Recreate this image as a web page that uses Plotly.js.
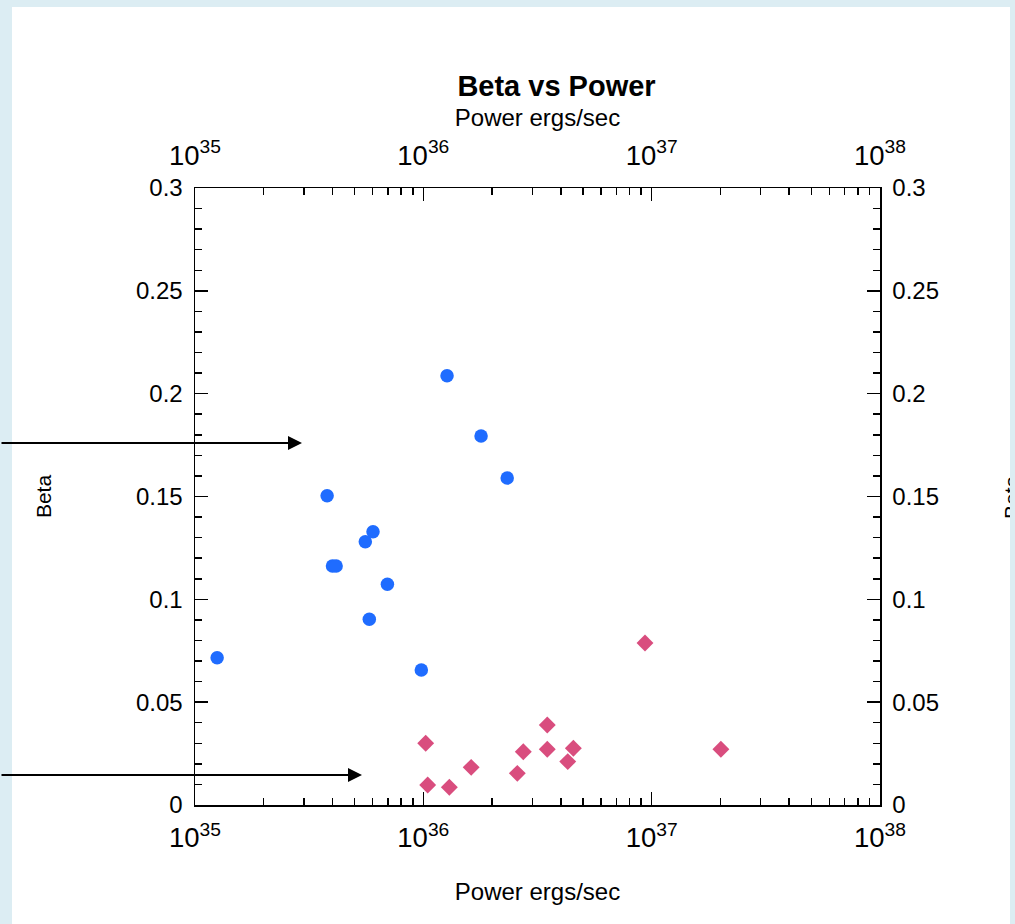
<!DOCTYPE html>
<html>
<head>
<meta charset="utf-8">
<script src="https://cdn.plot.ly/plotly-3.0.1.min.js"></script>
<style>
  html, body { margin: 0; padding: 0; background: #dcedf3; width: 1015px; height: 924px; overflow: hidden; }
  #panel { position: absolute; left: 12px; top: 7px; width: 998px; height: 917px; background: #ffffff; }
  #chart { position: absolute; left: 0; top: 0; width: 1010px; height: 924px; overflow: hidden; }
</style>
</head>
<body>
<div id="panel"></div>
<div id="chart"></div>
<script>
// Series 1 (blue circles): power (ergs/sec) and beta
const bluePower = [1.25e35, 3.79e35, 4.0e35, 4.15e35, 5.57e35, 5.8e35, 6.02e35, 6.96e35, 9.8e35, 1.27e36, 1.79e36, 2.33e36];
const blueBeta  = [0.0716, 0.1504, 0.1162, 0.1162, 0.128, 0.0903, 0.1329, 0.1073, 0.0656, 0.2087, 0.1794, 0.159];

// Series 2 (pink diamonds): power (ergs/sec) and beta
const pinkPower = [1.024e36, 1.045e36, 1.30e36, 1.62e36, 2.58e36, 2.74e36, 3.49e36, 3.49e36, 4.29e36, 4.54e36, 9.35e36, 2.01e37];
const pinkBeta  = [0.030, 0.0097, 0.0086, 0.0183, 0.0154, 0.0259, 0.0389, 0.0271, 0.0211, 0.0276, 0.0788, 0.0271];

// Text
const chartTitle = 'Beta vs Power';
const xTitle = 'Power ergs/sec';
const yTitle = 'Beta';

const FONT = 'Liberation Sans, Arial, sans-serif';
const xTickFont = {family: FONT, size: 22, color: '#000'};
const yTickFont = {family: FONT, size: 24, color: '#000'};

const baseX = {
  type: 'log', range: [35, 38], dtick: 1, exponentformat: 'power', showexponent: 'all',
  showline: true, linecolor: '#000', linewidth: 1.5, mirror: false,
  ticks: 'inside', ticklen: 13, tickwidth: 1.5, tickcolor: '#000',
  minor: {ticks: 'inside', ticklen: 7, tickwidth: 1.5, tickcolor: '#000', dtick: 'D1', showgrid: false},
  showgrid: false, zeroline: false, tickfont: xTickFont
};
const baseY = {
  range: [0, 0.3], dtick: 0.05, tick0: 0,
  showline: true, linecolor: '#000', linewidth: 1.5,
  ticks: 'inside', ticklen: 13, tickwidth: 1.5, tickcolor: '#000',
  minor: {ticks: 'inside', ticklen: 7, tickwidth: 1.5, tickcolor: '#000', dtick: 0.01, showgrid: false},
  showgrid: false, zeroline: false, tickfont: yTickFont, ticklabelstandoff: 6
};

const traces = [
  {x: bluePower, y: blueBeta, type: 'scatter', mode: 'markers', name: 'Beta',
   marker: {symbol: 'circle', size: 13.5, color: '#1f6cff'}},
  {x: pinkPower, y: pinkBeta, type: 'scatter', mode: 'markers', name: 'Beta 2',
   marker: {symbol: 'diamond', size: 13, color: '#d94d7e'}},
  // empty trace that binds the mirrored top and right axes
  {x: [], y: [], type: 'scatter', mode: 'markers', xaxis: 'x2', yaxis: 'y2', showlegend: false, hoverinfo: 'skip'}
];

const layout = {
  width: 1010, height: 924,
  paper_bgcolor: 'rgba(0,0,0,0)', plot_bgcolor: '#ffffff',
  margin: {l: 195, r: 130, t: 188, b: 119},
  showlegend: false,
  font: {family: FONT, color: '#000'},
  title: {text: '<b>' + chartTitle + '</b>', font: {family: FONT, size: 29, color: '#000'},
          xref: 'container', x: 0.551, xanchor: 'center', yref: 'container', y: 1 - 86/924, yanchor: 'middle'},
  xaxis: Object.assign({}, baseX, {side: 'bottom', anchor: 'y', ticklabelstandoff: 9,
     title: {text: xTitle, font: {family: FONT, size: 24, color: '#000'}, standoff: 31}}),
  xaxis2: Object.assign({}, baseX, {side: 'top', overlaying: 'x', anchor: 'y2', ticklabelstandoff: 12,
     title: {text: xTitle, font: {family: FONT, size: 24, color: '#000'}, standoff: 2}}),
  yaxis: Object.assign({}, baseY, {side: 'left', anchor: 'x',
     title: {text: yTitle, font: {family: FONT, size: 21, color: '#000'}, standoff: 78}}),
  yaxis2: Object.assign({}, baseY, {side: 'right', overlaying: 'y', anchor: 'x2'}),
  annotations: [
    // right-hand axis title, cut off by the page edge as in the original
    {xref: 'paper', yref: 'paper', x: (1011 - 195) / 685, xanchor: 'center', y: (805 - 497) / 617, yanchor: 'middle',
     text: yTitle, textangle: -90, showarrow: false, font: {family: FONT, size: 21, color: '#000'}},
    {xref: 'paper', yref: 'paper', x: (302 - 195) / 685, y: (805 - 443) / 617, ax: -302, ay: 0,
     text: '', showarrow: true, arrowhead: 2, arrowsize: 1.4, arrowwidth: 2, arrowcolor: '#000'},
    {xref: 'paper', yref: 'paper', x: (362 - 195) / 685, y: (805 - 775) / 617, ax: -362, ay: 0,
     text: '', showarrow: true, arrowhead: 2, arrowsize: 1.4, arrowwidth: 2, arrowcolor: '#000'}
  ]
};

Plotly.newPlot('chart', traces, layout, {staticPlot: true, displayModeBar: false});
</script>
</body>
</html>
